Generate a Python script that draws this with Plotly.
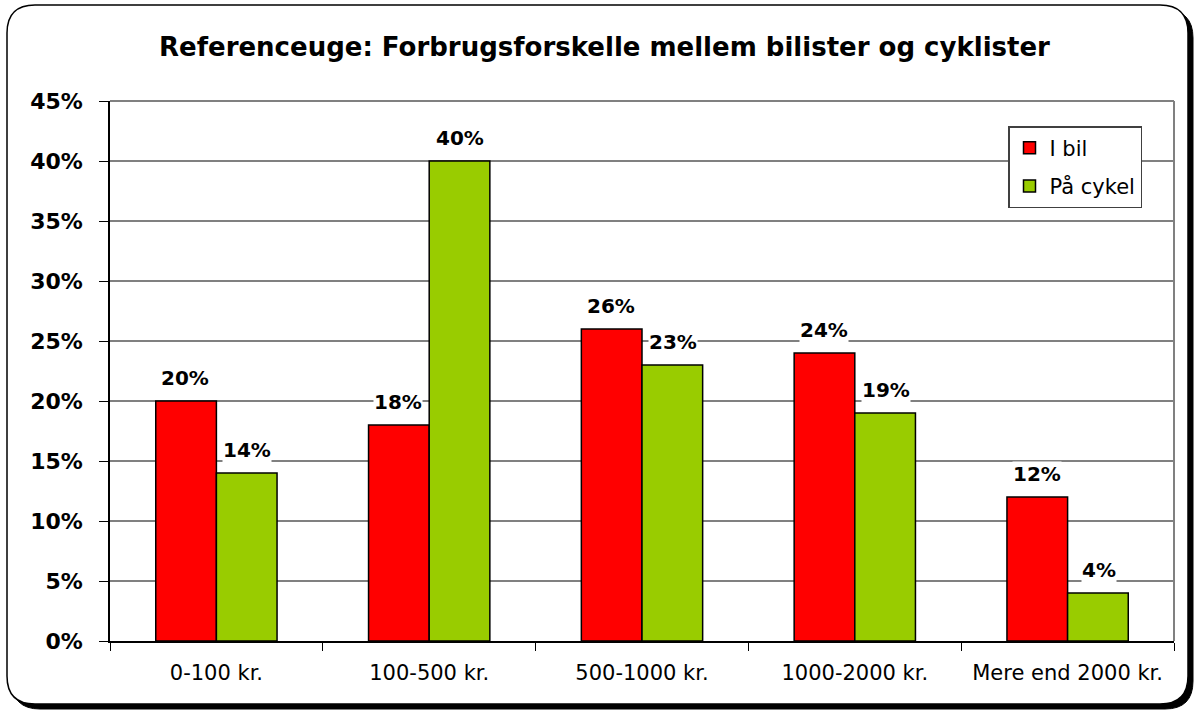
import plotly.graph_objects as go

categories = ["0-100 kr.", "100-500 kr.", "500-1000 kr.", "1000-2000 kr.", "Mere end 2000 kr."]
bil = [20, 18, 26, 24, 12]
cykel = [14, 40, 23, 19, 4]
series_names = ["I bil", "På cykel"]
ytick_vals = [0, 5, 10, 15, 20, 25, 30, 35, 40, 45]
ytick_text = [f"{v}%" for v in ytick_vals]
title = "Referenceuge: Forbrugsforskelle mellem bilister og cyklister"

FONT = "DejaVu Sans"
W, H = 1197, 713
L, R, T, B = 110, 1174, 101, 641

def px(x):
    return (x - L) / (R - L)

def py(y):
    return (B - y) / (B - T)

def rrect(x0, y0, x1, y1, r):
    return (f"M {px(x0+r)},{py(y0)} L {px(x1-r)},{py(y0)} Q {px(x1)},{py(y0)} {px(x1)},{py(y0+r)} "
            f"L {px(x1)},{py(y1-r)} Q {px(x1)},{py(y1)} {px(x1-r)},{py(y1)} "
            f"L {px(x0+r)},{py(y1)} Q {px(x0)},{py(y1)} {px(x0)},{py(y1-r)} "
            f"L {px(x0)},{py(y0+r)} Q {px(x0)},{py(y0)} {px(x0+r)},{py(y0)} Z")

fig = go.Figure()
fig.add_trace(go.Bar(x=categories, y=bil, name=series_names[0], legendgroup="a",
                     marker=dict(color="#FF0000", line=dict(color="black", width=1.5))))
fig.add_trace(go.Bar(x=categories, y=cykel, name=series_names[1], legendgroup="b",
                     marker=dict(color="#99CC00", line=dict(color="black", width=1.5))))

annotations = []
for vals, shift in ((bil, -31), (cykel, 31)):
    for c, v in zip(categories, vals):
        annotations.append(dict(x=c, y=v, xref="x", yref="y", text=f"{v}%", showarrow=False,
                                xshift=shift, yshift=10, yanchor="bottom",
                                bgcolor="white", borderpad=0,
                                font=dict(family=FONT, size=20, color="black", weight="bold")))

shapes = [
    dict(type="path", xref="paper", yref="paper", path=rrect(12, 10, 1193, 709, 28),
         fillcolor="black", line=dict(color="black", width=1), layer="below"),
    dict(type="path", xref="paper", yref="paper", path=rrect(7, 5, 1188, 704, 28),
         fillcolor="white", line=dict(color="black", width=1.5), layer="below"),
    dict(type="line", xref="paper", yref="paper", x0=0, x1=1, y0=1, y1=1,
         line=dict(color="#808080", width=2)),
    dict(type="line", xref="paper", yref="paper", x0=1, x1=1, y0=0, y1=1,
         line=dict(color="#808080", width=2)),
]

fig.update_layout(
    width=W, height=H,
    margin=dict(l=L, r=W - R, t=T, b=H - B),
    paper_bgcolor="rgba(0,0,0,0)", plot_bgcolor="white",
    barmode="group", bargap=0.43, bargroupgap=0,
    title=dict(text=title, x=0.505, xref="container", y=1 - 47 / H, yref="container",
               xanchor="center", yanchor="middle",
               font=dict(family=FONT, size=26, color="black", weight="bold")),
    font=dict(family=FONT, color="black"),
    showlegend=True,
    legend=dict(x=px(1008), y=py(126), xanchor="left", yanchor="top",
                bgcolor="white", bordercolor="#404040", borderwidth=1.5,
                font=dict(family=FONT, size=21, color="black"), itemwidth=30,
                tracegroupgap=8, traceorder="grouped"),
    annotations=annotations,
    shapes=shapes,
)
fig.update_xaxes(type="category", showline=True, linecolor="black", linewidth=1.5,
                 ticks="outside", tickson="boundaries", ticklen=8, tickcolor="black",
                 ticklabelstandoff=12,
                 tickfont=dict(family=FONT, size=21, color="black"), showgrid=False)
fig.update_yaxes(range=[0, 45], tickvals=ytick_vals, ticktext=ytick_text,
                 showline=True, linecolor="black", linewidth=1.5,
                 ticks="outside", ticklen=9, tickcolor="black", ticklabelstandoff=12,
                 showgrid=True, gridcolor="#808080", gridwidth=1.5, zeroline=False,
                 tickfont=dict(family=FONT, size=22, color="black", weight="bold"))

fig.write_html("out.html", config={"displayModeBar": False},
               post_script="document.body.style.margin='0';document.body.style.overflow='hidden';")
